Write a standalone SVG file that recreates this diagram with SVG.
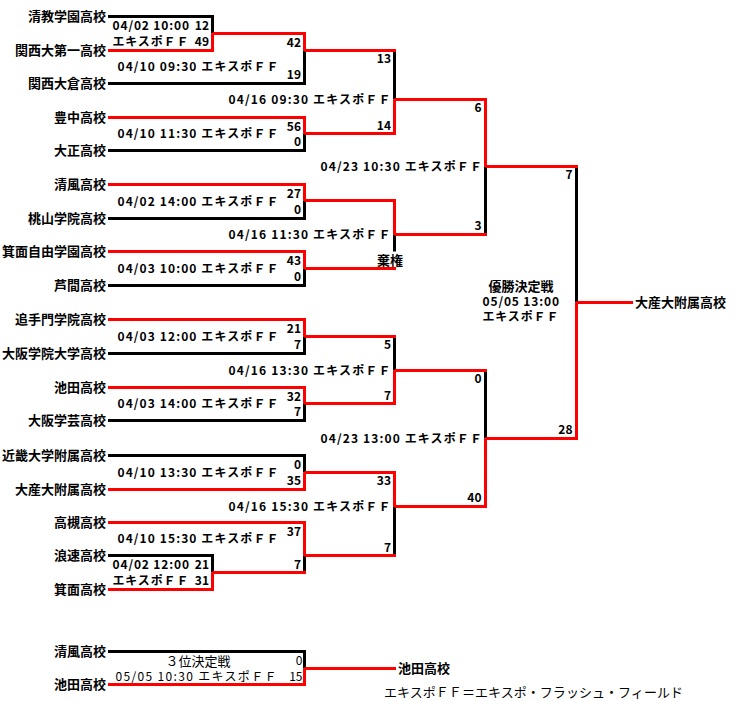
<svg xmlns="http://www.w3.org/2000/svg" width="740" height="701" viewBox="0 0 740 701">
<style>
text{font-family:"Noto Sans CJK JP","Noto Sans",sans-serif;fill:#000}
.n{font-size:13px;font-weight:bold;text-anchor:end}
.w{font-size:13px;font-weight:bold}
.d{font-size:12px;font-weight:bold}
.s{font-size:12px;font-weight:bold;text-anchor:end}
.p{font-size:12px}
.pe{font-size:12px;text-anchor:end}
.f{font-size:13px}
path{fill:none;stroke-width:3;stroke-linejoin:miter}
.k{stroke:#000}
.r{stroke:#f00}
</style>
<rect width="740" height="701" fill="#fff"/>
<g id="connectors">
<path class="k" d="M108 16.5H212.5V33.5"/>
<path class="r" d="M108 50.5H212.5V33.5"/>
<path class="r" d="M212.5 33.5H304.5V50.5"/>
<path class="k" d="M108 83.5H304.5V50.5"/>
<path class="k" d="M394.5 50.5V99.5"/>
<path class="r" d="M304.5 50.5H396"/>
<path class="r" d="M108 117.5H304.5V133.5"/>
<path class="k" d="M108 150.5H304.5V133.5"/>
<path class="r" d="M304.5 133.5H394.5V99.5"/>
<path class="r" d="M394.5 99.5H485.5V166.5"/>
<path class="r" d="M108 184.5H304.5V200.5"/>
<path class="k" d="M108 218.5H304.5V200.5"/>
<path class="r" d="M304.5 200.5H394.5V234.5"/>
<path class="k" d="M394.5 234.5V251.5"/>
<path class="r" d="M108 251.5H304.5V268.5"/>
<path class="k" d="M108 285.5H304.5V268.5"/>
<path class="r" d="M304.5 268.5H396"/>
<path class="k" d="M485.5 166.5V234.5"/>
<path class="r" d="M394.5 234.5H487"/>
<path class="k" d="M576.5 166.5V302.5"/>
<path class="r" d="M485.5 166.5H578"/>
<path class="r" d="M108 319.5H304.5V336.5"/>
<path class="k" d="M108 353.5H304.5V336.5"/>
<path class="k" d="M394.5 336.5V370.5"/>
<path class="r" d="M304.5 336.5H396"/>
<path class="r" d="M108 387.5H304.5V403.5"/>
<path class="k" d="M108 420.5H304.5V403.5"/>
<path class="r" d="M304.5 403.5H394.5V370.5"/>
<path class="k" d="M485.5 370.5V438.5"/>
<path class="r" d="M394.5 370.5H487"/>
<path class="k" d="M108 455.5H304.5V472.5"/>
<path class="r" d="M108 489.5H304.5V472.5"/>
<path class="r" d="M304.5 472.5H394.5V506.5"/>
<path class="k" d="M108 555.5H212.5V572.5"/>
<path class="r" d="M108 589.5H212.5V572.5"/>
<path class="r" d="M108 522.5H304.5V555.5"/>
<path class="k" d="M304.5 555.5V572.5"/>
<path class="r" d="M212.5 572.5H306"/>
<path class="k" d="M394.5 506.5V555.5"/>
<path class="r" d="M304.5 555.5H396"/>
<path class="r" d="M394.5 506.5H485.5V438.5"/>
<path class="r" d="M485.5 438.5H576.5V302.5"/>
<path class="r" d="M576.5 302.5H633"/>
<path class="k" d="M108 651.5H304.5V668.5"/>
<path class="r" d="M108 684.5H304.5V668.5"/>
<path class="r" d="M304.5 668.5H396"/>
</g>
<g id="t01"><text class="n" x="106" y="21">清教学園高校</text></g>
<g id="t02"><text class="n" x="106" y="55">関西大第一高校</text></g>
<g id="t03"><text class="n" x="106" y="88">関西大倉高校</text></g>
<g id="t04"><text class="n" x="106" y="122">豊中高校</text></g>
<g id="t05"><text class="n" x="106" y="155">大正高校</text></g>
<g id="t06"><text class="n" x="106" y="189">清風高校</text></g>
<g id="t07"><text class="n" x="106" y="223">桃山学院高校</text></g>
<g id="t08"><text class="n" x="106" y="256">箕面自由学園高校</text></g>
<g id="t09"><text class="n" x="106" y="290">芦間高校</text></g>
<g id="t10"><text class="n" x="106" y="324">追手門学院高校</text></g>
<g id="t11"><text class="n" x="106" y="358">大阪学院大学高校</text></g>
<g id="t12"><text class="n" x="106" y="392">池田高校</text></g>
<g id="t13"><text class="n" x="106" y="425">大阪学芸高校</text></g>
<g id="t14"><text class="n" x="106" y="460">近畿大学附属高校</text></g>
<g id="t15"><text class="n" x="106" y="494">大産大附属高校</text></g>
<g id="t16"><text class="n" x="106" y="527">高槻高校</text></g>
<g id="t17"><text class="n" x="106" y="560">浪速高校</text></g>
<g id="t18"><text class="n" x="106" y="594">箕面高校</text></g>
<g id="champion"><text class="w" x="635" y="307">大産大附属高校</text></g>
<g id="t3-a"><text class="n" x="106" y="656">清風高校</text></g>
<g id="t3-b"><text class="n" x="106" y="689">池田高校</text></g>
<g id="third-winner"><text class="w" x="398" y="673">池田高校</text></g>
<g id="mA"><text class="d" x="112.5" y="29.5" textLength="76.5">04/02 10:00</text><text class="s" x="209" y="29.5">12</text><text class="d" x="112.5" y="45.5" textLength="76">エキスポＦＦ</text><text class="s" x="209" y="45.5">49</text></g>
<g id="mB"><text class="d" x="117.5" y="71" textLength="161">04/10 09:30 エキスポＦＦ</text><text class="s" x="301" y="47">42</text><text class="s" x="301" y="79">19</text></g>
<g id="mC"><text class="d" x="117.5" y="138" textLength="161">04/10 11:30 エキスポＦＦ</text><text class="s" x="301" y="131">56</text><text class="s" x="301" y="146">0</text></g>
<g id="mR3a"><text class="d" x="228.5" y="104" textLength="162">04/16 09:30 エキスポＦＦ</text><text class="s" x="391" y="63">13</text><text class="s" x="391" y="130">14</text></g>
<g id="mD"><text class="d" x="117.5" y="206" textLength="161">04/02 14:00 エキスポＦＦ</text><text class="s" x="301" y="198">27</text><text class="s" x="301" y="214">0</text></g>
<g id="mE"><text class="d" x="117.5" y="273" textLength="161">04/03 10:00 エキスポＦＦ</text><text class="s" x="301" y="265">43</text><text class="s" x="301" y="281">0</text></g>
<g id="mF"><text class="d" x="228.5" y="239" textLength="162">04/16 11:30 エキスポＦＦ</text><text class="w" x="377" y="264.5">棄権</text></g>
<g id="mQF1"><text class="d" x="320.5" y="171" textLength="161.5">04/23 10:30 エキスポＦＦ</text><text class="s" x="481.5" y="112">6</text><text class="s" x="481.5" y="230">3</text></g>
<g id="mG"><text class="d" x="117.5" y="341" textLength="161">04/03 12:00 エキスポＦＦ</text><text class="s" x="301" y="333">21</text><text class="s" x="301" y="349">7</text></g>
<g id="mH"><text class="d" x="117.5" y="408" textLength="161">04/03 14:00 エキスポＦＦ</text><text class="s" x="301" y="401">32</text><text class="s" x="301" y="416">7</text></g>
<g id="mI"><text class="d" x="228.5" y="375" textLength="162">04/16 13:30 エキスポＦＦ</text><text class="s" x="391" y="349">5</text><text class="s" x="391" y="400">7</text></g>
<g id="mJ"><text class="d" x="117.5" y="477" textLength="161">04/10 13:30 エキスポＦＦ</text><text class="s" x="301" y="469">0</text><text class="s" x="301" y="485">35</text></g>
<g id="mK"><text class="d" x="112.5" y="569" textLength="76.5">04/02 12:00</text><text class="s" x="209" y="569">21</text><text class="d" x="112.5" y="584.5" textLength="76">エキスポＦＦ</text><text class="s" x="209" y="584.5">31</text></g>
<g id="mL"><text class="d" x="117.5" y="543" textLength="161">04/10 15:30 エキスポＦＦ</text><text class="s" x="301" y="536">37</text><text class="s" x="301" y="569">7</text></g>
<g id="mM"><text class="d" x="228.5" y="511" textLength="162">04/16 15:30 エキスポＦＦ</text><text class="s" x="391" y="485">33</text><text class="s" x="391" y="552">7</text></g>
<g id="mQF2"><text class="d" x="320.5" y="443" textLength="161.5">04/23 13:00 エキスポＦＦ</text><text class="s" x="481.5" y="383">0</text><text class="s" x="481.5" y="502">40</text></g>
<g id="mFinal"><text class="w" x="521" y="290.5" text-anchor="middle">優勝決定戦</text><text class="d" x="482.5" y="306" textLength="76.5">05/05 13:00</text><text class="d" x="482.5" y="321" textLength="76">エキスポＦＦ</text><text class="s" x="572.5" y="179">7</text><text class="s" x="572.5" y="433.5">28</text></g>
<g id="mThird"><text class="f" x="198" y="665.5" text-anchor="middle">３位決定戦</text><text class="p" x="115.5" y="681" textLength="161">05/05 10:30 エキスポＦＦ</text><text class="pe" x="302.5" y="665">0</text><text class="pe" x="302.5" y="681">15</text></g>
<g id="legend"><text class="f" x="384" y="696.5" textLength="299">エキスポＦＦ＝エキスポ・フラッシュ・フィールド</text></g>
</svg>
